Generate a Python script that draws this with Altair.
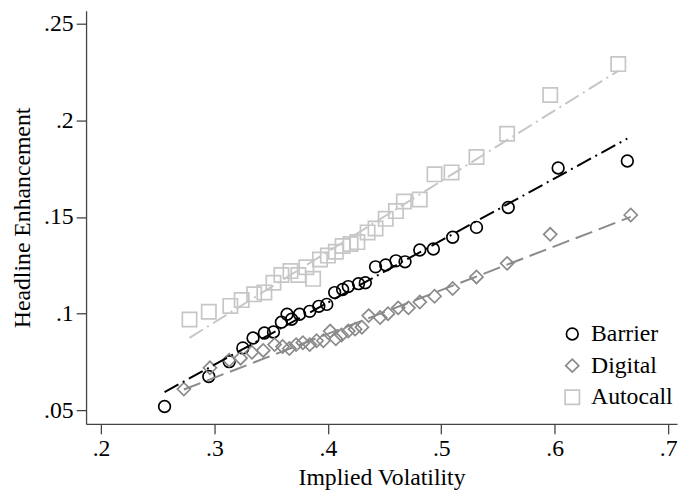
import altair as alt
import pandas as pd

series_names = ["Barrier", "Digital", "Autocall"]
series_colors = ["#000000", "#8a8a8a", "#c6c6c6"]
series_shapes = ["circle", "diamond", "square"]
line_dashes = [[16, 5, 2, 5], [18, 7], [16, 5, 2, 5]]

barrier_x = [0.256, 0.295, 0.313, 0.325, 0.334, 0.344, 0.352, 0.359, 0.364, 0.368,
             0.375, 0.384, 0.392, 0.399, 0.406, 0.413, 0.418, 0.427, 0.433, 0.442,
             0.451, 0.460, 0.468, 0.481, 0.493, 0.510, 0.531, 0.559, 0.603, 0.664]
barrier_y = [0.052, 0.0675, 0.0752, 0.0823, 0.0874, 0.0900, 0.0905, 0.0956, 0.0997, 0.0971,
             0.0997, 0.1012, 0.1038, 0.1048, 0.1109, 0.1125, 0.1140, 0.1155, 0.1160, 0.1242,
             0.1252, 0.1273, 0.1268, 0.1329, 0.1334, 0.1395, 0.1446, 0.1549, 0.1753, 0.1789]

digital_x = [0.273, 0.296, 0.313, 0.323, 0.333, 0.343, 0.353, 0.360, 0.366, 0.372,
             0.378, 0.384, 0.390, 0.396, 0.402, 0.407, 0.412, 0.418, 0.424, 0.430,
             0.436, 0.446, 0.453, 0.462, 0.471, 0.481, 0.494, 0.510, 0.531, 0.558,
             0.596, 0.667]
digital_y = [0.061, 0.072, 0.076, 0.077, 0.080, 0.081, 0.084, 0.083, 0.082, 0.084,
             0.085, 0.084, 0.086, 0.086, 0.091, 0.087, 0.089, 0.091, 0.092, 0.093,
             0.099, 0.098, 0.100, 0.103, 0.103, 0.106, 0.109, 0.113, 0.119, 0.126,
             0.141, 0.151]

autocall_x = [0.278, 0.295, 0.314, 0.324, 0.335, 0.344, 0.352, 0.359, 0.367, 0.374,
              0.381, 0.387, 0.393, 0.400, 0.407, 0.413, 0.420, 0.426, 0.435, 0.442,
              0.451, 0.460, 0.467, 0.481, 0.494, 0.509, 0.531, 0.558, 0.596, 0.656]
autocall_y = [0.097, 0.101, 0.104, 0.107, 0.110, 0.111, 0.116, 0.120, 0.122, 0.120,
              0.124, 0.118, 0.128, 0.130, 0.132, 0.135, 0.136, 0.137, 0.142, 0.144,
              0.149, 0.153, 0.158, 0.159, 0.172, 0.173, 0.181, 0.193, 0.213, 0.229]

# fitted lines (end points)
barrier_fit_x = [0.256, 0.664]
barrier_fit_y = [0.0595, 0.1905]
digital_fit_x = [0.273, 0.667]
digital_fit_y = [0.0608, 0.1500]
autocall_fit_x = [0.278, 0.656]
autocall_fit_y = [0.0875, 0.2255]

x_ticks = [0.2, 0.3, 0.4, 0.5, 0.6, 0.7]
y_ticks = [0.05, 0.1, 0.15, 0.2, 0.25]

rows = []
for name, xs, ys in [("Barrier", barrier_x, barrier_y),
                     ("Digital", digital_x, digital_y),
                     ("Autocall", autocall_x, autocall_y)]:
    for a, b in zip(xs, ys):
        rows.append({"series": name, "vol": a, "enh": b})
df = pd.DataFrame(rows)

fits = {
    "Barrier": (barrier_fit_x, barrier_fit_y),
    "Digital": (digital_fit_x, digital_fit_y),
    "Autocall": (autocall_fit_x, autocall_fit_y),
}

FONT = "Liberation Serif"
FS = 24
xscale = alt.Scale(domain=[0.1868, 0.7078], nice=False, zero=False)
yscale = alt.Scale(domain=[0.043, 0.2565], nice=False, zero=False)
color_scale = alt.Scale(domain=series_names, range=series_colors)
shape_scale = alt.Scale(domain=series_names, range=series_shapes)
size_scale = alt.Scale(domain=series_names, range=[140, 210, 140])

x_axis = alt.Axis(values=x_ticks, labelExpr="substring(toString(datum.value), 1)",
                  title="Implied Volatility", grid=False, tickSize=10, labelFlush=False)
y_axis = alt.Axis(values=y_ticks, labelExpr="substring(toString(datum.value), 1)",
                  title="Headline Enhancement", grid=False, tickSize=10, labelAngle=0,
                  titlePadding=9)

points = alt.Chart(df).mark_point(filled=False, strokeWidth=1.7, opacity=1).encode(
    x=alt.X("vol:Q", scale=xscale, axis=x_axis),
    y=alt.Y("enh:Q", scale=yscale, axis=y_axis),
    color=alt.Color("series:N", scale=color_scale, sort=series_names,
                    legend=alt.Legend(title=None, orient="none", legendX=480, legendY=315,
                                      padding=0, rowPadding=8, labelOffset=7,
                                      symbolSize=110, symbolStrokeWidth=1.7)),
    shape=alt.Shape("series:N", scale=shape_scale, sort=series_names),
    size=alt.Size("series:N", scale=size_scale, legend=None),
)

line_layers = []
for name, col, dash in zip(series_names, series_colors, line_dashes):
    fx, fy = fits[name]
    fdf = pd.DataFrame({"vol": fx, "enh": fy})
    line_layers.append(
        alt.Chart(fdf).mark_line(strokeWidth=2, color=col, strokeDash=dash).encode(
            x=alt.X("vol:Q", scale=xscale),
            y=alt.Y("enh:Q", scale=yscale),
        )
    )

chart = alt.layer(points, *line_layers).properties(
    width=598, height=418,
    autosize=alt.AutoSizeParams(type="none"),
    padding={"left": 79, "top": 0, "right": 2, "bottom": 70},
).configure_view(stroke=None).configure_axis(
    labelFont=FONT, titleFont=FONT, labelFontSize=FS, titleFontSize=FS,
    titleFontWeight="normal", labelColor="#000000", titleColor="#000000",
    domainColor="#444444", tickColor="#444444", domainWidth=1.3, tickWidth=1.3,
    labelPadding=3, titlePadding=5,
).configure_legend(
    labelFont=FONT, labelFontSize=FS, labelColor="#000000",
)

chart.save("out.html", embed_options={"renderer": "svg", "actions": False})
